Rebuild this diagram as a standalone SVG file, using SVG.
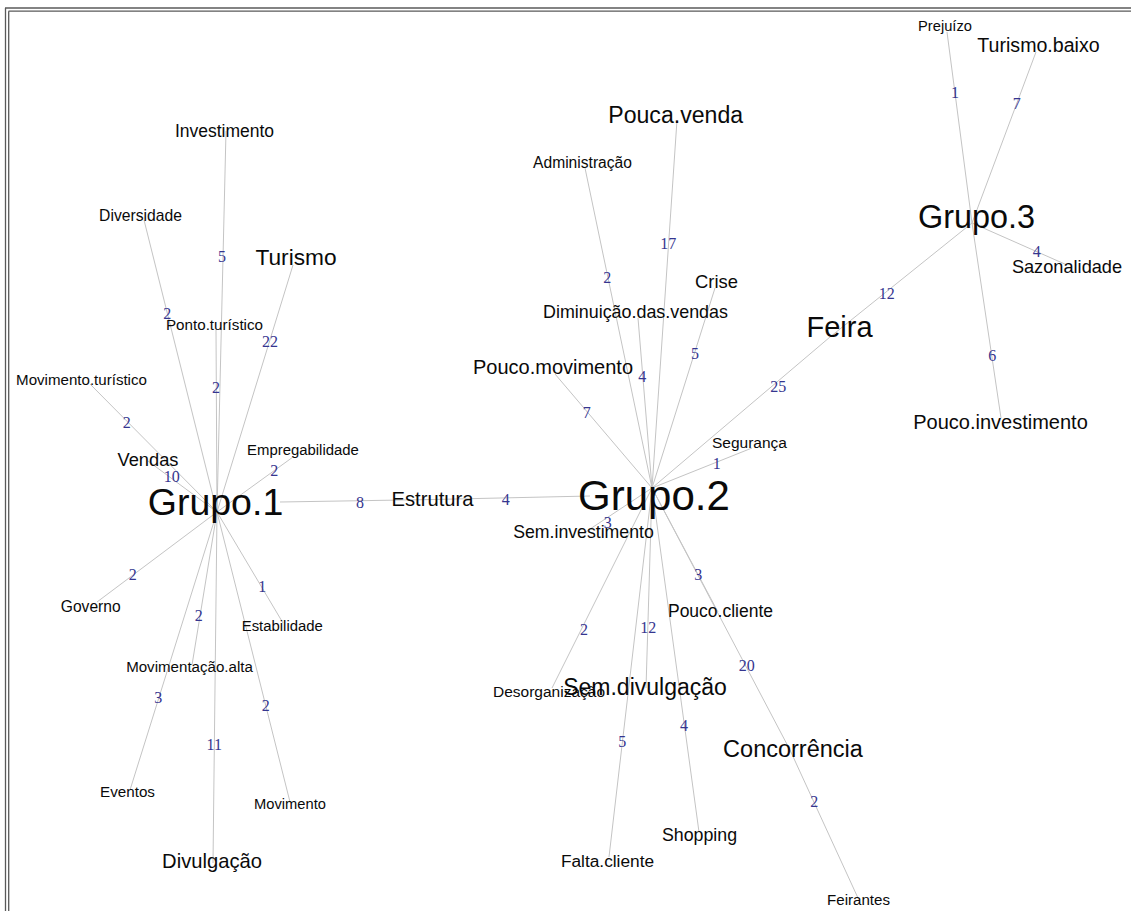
<svg xmlns="http://www.w3.org/2000/svg" width="1131" height="911" viewBox="0 0 1131 911">
<style>
.frame{stroke:#5a5a5a;stroke-width:1.3;fill:none}
.e{stroke:#c4c4c4;stroke-width:1;fill:none}
.el{font-family:"Liberation Serif","Times New Roman",serif;font-size:16px;fill:#35358f;text-anchor:middle}
.n{font-family:"Liberation Sans",Arial,sans-serif;fill:#0a0a0a;text-anchor:middle}
</style>
<rect x="0" y="0" width="1131" height="911" fill="#ffffff"/>
<g id="frame">
<line class="frame" x1="5" y1="8" x2="1131" y2="8"/>
<line class="frame" x1="8.5" y1="11.2" x2="1131" y2="11.2"/>
<line class="frame" x1="5.5" y1="8" x2="5.5" y2="911"/>
<line class="frame" x1="8.7" y1="11.2" x2="8.7" y2="911"/>
</g>
<g id="connectors">
<line class="e" x1="226" y1="131" x2="217" y2="512"/>
<line class="e" x1="144" y1="220" x2="217" y2="512"/>
<line class="e" x1="293" y1="265" x2="217" y2="512"/>
<line class="e" x1="216" y1="330" x2="217" y2="512"/>
<line class="e" x1="90" y1="384" x2="217" y2="512"/>
<line class="e" x1="148" y1="461" x2="217" y2="512"/>
<line class="e" x1="293" y1="457" x2="217" y2="512"/>
<line class="e" x1="280" y1="502" x2="433" y2="499.5"/>
<line class="e" x1="97" y1="602" x2="217" y2="512"/>
<line class="e" x1="283" y1="623" x2="217" y2="512"/>
<line class="e" x1="192" y1="665" x2="217" y2="512"/>
<line class="e" x1="130" y1="790" x2="217" y2="512"/>
<line class="e" x1="213" y1="863" x2="217" y2="512"/>
<line class="e" x1="290" y1="802" x2="217" y2="512"/>
<line class="e" x1="433" y1="499.5" x2="590" y2="496"/>
<line class="e" x1="585" y1="168" x2="652" y2="488"/>
<line class="e" x1="677" y1="120" x2="652" y2="488"/>
<line class="e" x1="638" y1="318" x2="652" y2="488"/>
<line class="e" x1="715" y1="288" x2="652" y2="488"/>
<line class="e" x1="555" y1="374" x2="652" y2="488"/>
<line class="e" x1="652" y1="488" x2="830" y2="337"/>
<line class="e" x1="652" y1="488" x2="752" y2="448"/>
<line class="e" x1="584" y1="533" x2="652" y2="488"/>
<line class="e" x1="552" y1="688" x2="652" y2="488"/>
<line class="e" x1="646" y1="688" x2="652" y2="488"/>
<line class="e" x1="609" y1="857" x2="652" y2="488"/>
<line class="e" x1="699" y1="832" x2="652" y2="488"/>
<line class="e" x1="718" y1="612" x2="652" y2="488"/>
<line class="e" x1="652" y1="488" x2="790" y2="750"/>
<line class="e" x1="790" y1="750" x2="858" y2="898"/>
<line class="e" x1="830" y1="337" x2="972" y2="223"/>
<line class="e" x1="947" y1="32" x2="972" y2="223"/>
<line class="e" x1="1036" y1="52" x2="972" y2="223"/>
<line class="e" x1="1067" y1="265" x2="972" y2="223"/>
<line class="e" x1="1001" y1="418" x2="972" y2="223"/>
</g>
<g id="edge-labels">
<text class="el" x="222" y="261.5">5</text>
<text class="el" x="167.3" y="318.5">2</text>
<text class="el" x="270" y="346.5">22</text>
<text class="el" x="216" y="393">2</text>
<text class="el" x="126.7" y="427.5">2</text>
<text class="el" x="171.7" y="482">10</text>
<text class="el" x="274.3" y="476">2</text>
<text class="el" x="360" y="507.5">8</text>
<text class="el" x="132.7" y="580">2</text>
<text class="el" x="262.3" y="592">1</text>
<text class="el" x="198.7" y="621">2</text>
<text class="el" x="158.3" y="703">3</text>
<text class="el" x="265.7" y="711">2</text>
<text class="el" x="214.3" y="750">11</text>
<text class="el" x="607.3" y="282.5">2</text>
<text class="el" x="668.3" y="249">17</text>
<text class="el" x="642.3" y="382">4</text>
<text class="el" x="695" y="359">5</text>
<text class="el" x="586.7" y="417.5">7</text>
<text class="el" x="778.3" y="392">25</text>
<text class="el" x="716.7" y="469">1</text>
<text class="el" x="505.7" y="505">4</text>
<text class="el" x="607.7" y="527.5">3</text>
<text class="el" x="584" y="635">2</text>
<text class="el" x="648.3" y="632.5">12</text>
<text class="el" x="622.3" y="746.5">5</text>
<text class="el" x="684" y="731">4</text>
<text class="el" x="698.3" y="580">3</text>
<text class="el" x="746.7" y="671">20</text>
<text class="el" x="814.3" y="806.5">2</text>
<text class="el" x="886.7" y="299">12</text>
<text class="el" x="955" y="97.5">1</text>
<text class="el" x="1016.7" y="109">7</text>
<text class="el" x="1036.7" y="256.5">4</text>
<text class="el" x="992.3" y="361">6</text>
</g>
<g id="node-grupo1"><text class="n" x="215.5" y="515" font-size="37.5">Grupo.1</text></g>
<g id="node-investimento"><text class="n" x="224.5" y="136.5" font-size="17.5">Investimento</text></g>
<g id="node-diversidade"><text class="n" x="140.5" y="220.5" font-size="15.7">Diversidade</text></g>
<g id="node-turismo"><text class="n" x="296" y="265" font-size="22.7">Turismo</text></g>
<g id="node-ponto-turistico"><text class="n" x="214.5" y="329.5" font-size="15.2">Ponto.turístico</text></g>
<g id="node-movimento-turistico"><text class="n" x="81.5" y="384.5" font-size="15.1">Movimento.turístico</text></g>
<g id="node-vendas"><text class="n" x="148" y="466" font-size="18.3">Vendas</text></g>
<g id="node-empregabilidade"><text class="n" x="303" y="454.5" font-size="14.9">Empregabilidade</text></g>
<g id="node-estrutura"><text class="n" x="432.5" y="506" font-size="20.2">Estrutura</text></g>
<g id="node-governo"><text class="n" x="90.7" y="611.7" font-size="15.6">Governo</text></g>
<g id="node-estabilidade"><text class="n" x="282.3" y="630.7" font-size="14.9">Estabilidade</text></g>
<g id="node-movimentacao-alta"><text class="n" x="189.5" y="671.7" font-size="15.1">Movimentação.alta</text></g>
<g id="node-eventos"><text class="n" x="127.5" y="797.3" font-size="15.2">Eventos</text></g>
<g id="node-movimento"><text class="n" x="290" y="809" font-size="14.7">Movimento</text></g>
<g id="node-divulgacao"><text class="n" x="212" y="867.7" font-size="20.2">Divulgação</text></g>
<g id="node-grupo2"><text class="n" x="654" y="510" font-size="42">Grupo.2</text></g>
<g id="node-pouca-venda"><text class="n" x="675.7" y="123.3" font-size="23.1">Pouca.venda</text></g>
<g id="node-administracao"><text class="n" x="582.5" y="168.3" font-size="15.6">Administração</text></g>
<g id="node-crise"><text class="n" x="716.5" y="288.3" font-size="18.4">Crise</text></g>
<g id="node-diminuicao"><text class="n" x="635.5" y="318.3" font-size="17.9">Diminuição.das.vendas</text></g>
<g id="node-pouco-movimento"><text class="n" x="553" y="374" font-size="20">Pouco.movimento</text></g>
<g id="node-seguranca"><text class="n" x="749.5" y="448.3" font-size="15.5">Segurança</text></g>
<g id="node-sem-investimento"><text class="n" x="583.5" y="538.3" font-size="17.7">Sem.investimento</text></g>
<g id="node-pouco-cliente"><text class="n" x="720.5" y="616.7" font-size="17.5">Pouco.cliente</text></g>
<g id="node-desorganizacao"><text class="n" x="549" y="696.7" font-size="15.5">Desorganização</text></g>
<g id="node-sem-divulgacao"><text class="n" x="645" y="695" font-size="23">Sem.divulgação</text></g>
<g id="node-concorrencia"><text class="n" x="793" y="757.3" font-size="23.5">Concorrência</text></g>
<g id="node-shopping"><text class="n" x="699.5" y="840.7" font-size="17.8">Shopping</text></g>
<g id="node-falta-cliente"><text class="n" x="607.5" y="867.3" font-size="17.3">Falta.cliente</text></g>
<g id="node-feirantes"><text class="n" x="858.5" y="905" font-size="15.1">Feirantes</text></g>
<g id="node-feira"><text class="n" x="839.5" y="336.7" font-size="29">Feira</text></g>
<g id="node-grupo3"><text class="n" x="976.5" y="228.3" font-size="32.4">Grupo.3</text></g>
<g id="node-prejuizo"><text class="n" x="945" y="30.7" font-size="14.7">Prejuízo</text></g>
<g id="node-turismo-baixo"><text class="n" x="1038.5" y="51.7" font-size="19.6">Turismo.baixo</text></g>
<g id="node-sazonalidade"><text class="n" x="1067" y="273.3" font-size="18.2">Sazonalidade</text></g>
<g id="node-pouco-investimento"><text class="n" x="1000.5" y="429.3" font-size="20">Pouco.investimento</text></g>
</svg>
